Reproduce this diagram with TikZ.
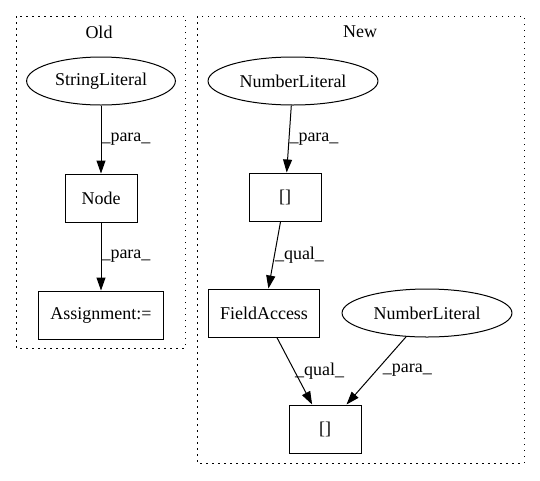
\documentclass[tikz,border=0pt]{standalone}
\usepackage{fontspec}
\setmainfont{Liberation Serif}
\usetikzlibrary{arrows.meta,shapes.geometric,positioning}
\tikzstyle{arrow} = [line width=1pt,-{Triangle[length=13pt,width=9pt]}]
\tikzstyle{astbox} = [rectangle, draw, line width=1pt, minimum width=72pt, minimum height=48pt, inner xsep=12pt]
\tikzstyle{literal} = [ellipse, draw, line width=1pt, minimum height=48pt, inner xsep=6.6pt]
\tikzstyle{edgelabel} = [anchor=west, inner sep=0pt]
\tikzstyle{cluster} = [line width=1pt, dash pattern=on 1.5pt off 4.5pt]

\begin{document}
\begin{tikzpicture}[x=1pt,y=-1pt,font=\fontsize{18}{21}\selectfont]
\useasboundingbox (0,0) rectangle (540,480);
% clusters
\draw[cluster] (16,16) rectangle (185,348);
\draw[cluster] (197,16) rectangle (524,463);
\node (oldlabel) at (99,32) {Old};
\node (newlabel) at (360,32) {New};

% Old
\node[literal] (strlit) at (101,81) {StringLiteral};
\node[astbox, below=68pt of strlit] (node) {Node};
\node[astbox, below=68pt of node] (assign) {Assignment:=};

% New
\node[literal] (numlit1) at (293,81) {NumberLiteral};
\node[astbox] (index1) at (285,197) {[]};
\node[astbox] (field) at (264,313) {FieldAccess};
\node[literal] (numlit2) at (427,313) {NumberLiteral};
\node[astbox] (index2) at (325,429) {[]};

\draw[arrow] (strlit) -- node[edgelabel] {\_para\_} (node);
\draw[arrow] (node) -- node[edgelabel] {\_para\_} (assign);
\draw[arrow] (numlit1) -- node[edgelabel] {\_para\_} (index1);
\draw[arrow] (index1) -- node[edgelabel] {\_qual\_} (field);
\draw[arrow] (field) -- node[edgelabel] {\_qual\_} (index2);
\draw[arrow] (numlit2) -- node[edgelabel, xshift=6pt] {\_para\_} (index2);
\end{tikzpicture}
\end{document}
